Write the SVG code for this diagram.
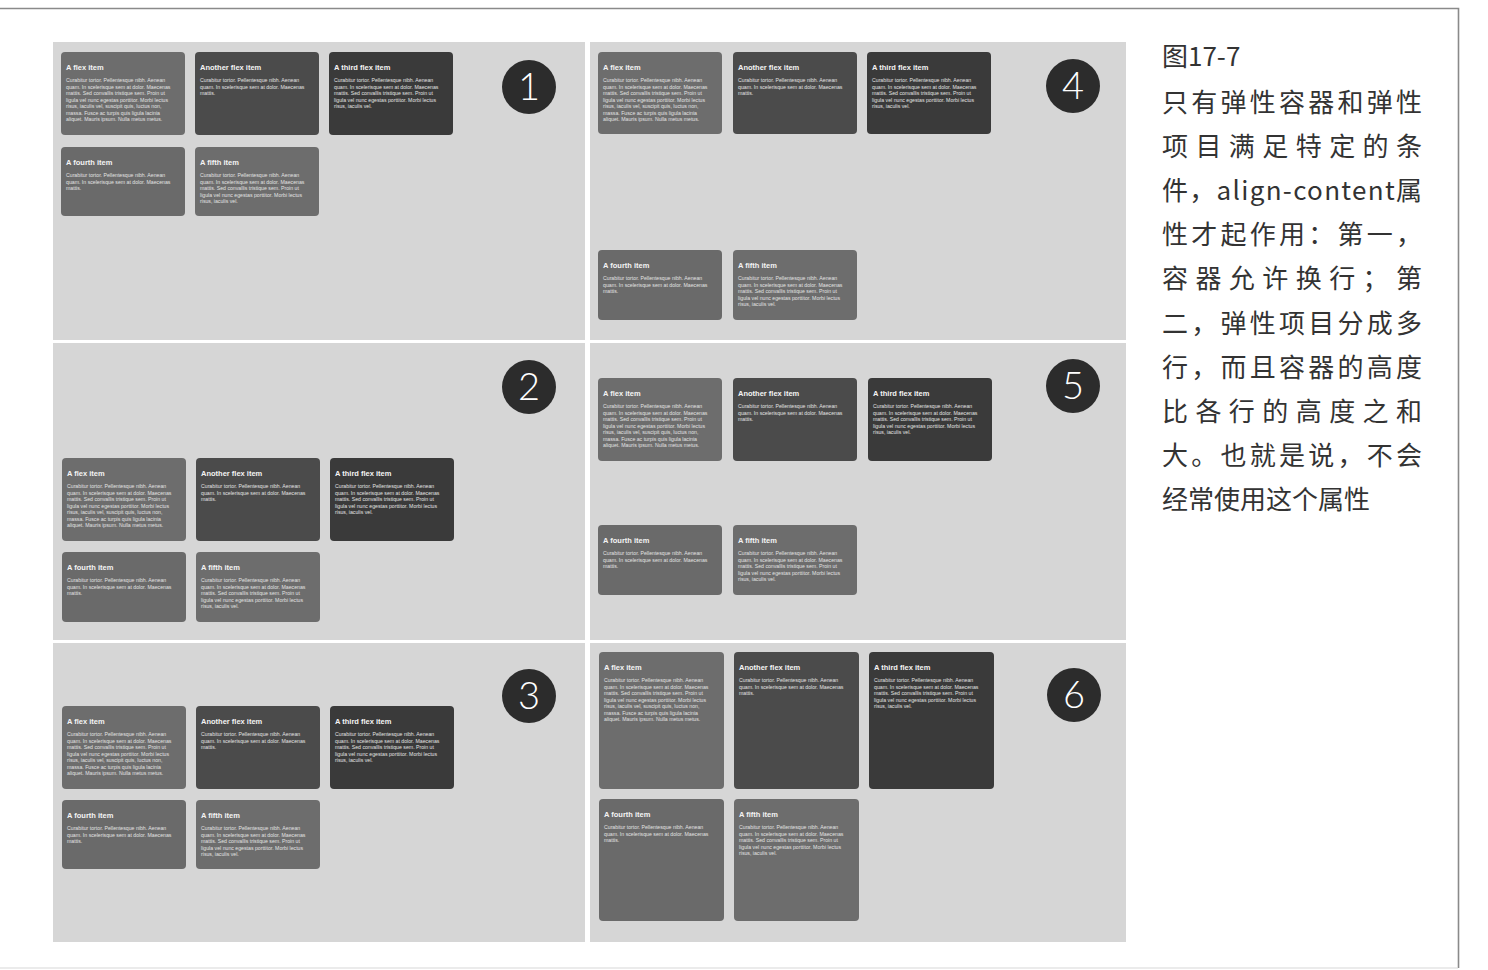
<svg xmlns="http://www.w3.org/2000/svg" xmlns:xlink="http://www.w3.org/1999/xlink" width="1488" height="970" viewBox="0 0 1488 970">
<style>
.panel{fill:#d6d6d6}
.c1{fill:#6d6d6d}.c2{fill:#4b4b4b}.c3{fill:#3a3a3a}.c4{fill:#6a6a6a}.c5{fill:#6d6d6d}
.ttl{font-family:"Liberation Sans",Arial,sans-serif;font-size:7.5px;font-weight:bold;fill:#f4f4f4}
.bd{font-family:"Liberation Sans",Arial,sans-serif;font-size:5.2px;fill:#e2e2e2}
.badge{fill:#2c2c2c}
.num{font-family:Lato,"Open Sans",sans-serif;font-weight:300;font-size:38px;fill:#ffffff;text-anchor:middle}
.cap{font-family:"Noto Sans CJK SC","Noto Sans",sans-serif;font-size:26px;fill:#333333}
.frame{fill:none;stroke:#8a8a8a;stroke-width:1.6}
</style>
<defs>
<g id="t1"><text class="ttl" x="5" y="18">A flex item</text><text class="bd"><tspan x="5" y="30">Curabitur tortor. Pellentesque nibh. Aenean</tspan><tspan x="5" y="36.5">quam. In scelerisque sem at dolor. Maecenas</tspan><tspan x="5" y="43">mattis. Sed convallis tristique sem. Proin ut</tspan><tspan x="5" y="49.5">ligula vel nunc egestas porttitor. Morbi lectus</tspan><tspan x="5" y="56">risus, iaculis vel, suscipit quis, luctus non,</tspan><tspan x="5" y="62.5">massa. Fusce ac turpis quis ligula lacinia</tspan><tspan x="5" y="69">aliquet. Mauris ipsum. Nulla metus metus.</tspan></text></g>
<g id="t2"><text class="ttl" x="5" y="18">Another flex item</text><text class="bd"><tspan x="5" y="30">Curabitur tortor. Pellentesque nibh. Aenean</tspan><tspan x="5" y="36.5">quam. In scelerisque sem at dolor. Maecenas</tspan><tspan x="5" y="43">mattis.</tspan></text></g>
<g id="t3"><text class="ttl" x="5" y="18">A third flex item</text><text class="bd"><tspan x="5" y="30">Curabitur tortor. Pellentesque nibh. Aenean</tspan><tspan x="5" y="36.5">quam. In scelerisque sem at dolor. Maecenas</tspan><tspan x="5" y="43">mattis. Sed convallis tristique sem. Proin ut</tspan><tspan x="5" y="49.5">ligula vel nunc egestas porttitor. Morbi lectus</tspan><tspan x="5" y="56">risus, iaculis vel.</tspan></text></g>
<g id="t4"><text class="ttl" x="5" y="18">A fourth item</text><text class="bd"><tspan x="5" y="30">Curabitur tortor. Pellentesque nibh. Aenean</tspan><tspan x="5" y="36.5">quam. In scelerisque sem at dolor. Maecenas</tspan><tspan x="5" y="43">mattis.</tspan></text></g>
<g id="t5"><text class="ttl" x="5" y="18">A fifth item</text><text class="bd"><tspan x="5" y="30">Curabitur tortor. Pellentesque nibh. Aenean</tspan><tspan x="5" y="36.5">quam. In scelerisque sem at dolor. Maecenas</tspan><tspan x="5" y="43">mattis. Sed convallis tristique sem. Proin ut</tspan><tspan x="5" y="49.5">ligula vel nunc egestas porttitor. Morbi lectus</tspan><tspan x="5" y="56">risus, iaculis vel.</tspan></text></g>
</defs>
<rect width="1488" height="970" fill="#ffffff"/>
<path class="frame" d="M0 8.5 H1458.5 V968"/>
<path d="M0 968 H1458" stroke="#d8d8d8" stroke-width="1.2" fill="none"/>

<g id="panel1">
<rect class="panel" x="53" y="42" width="532" height="298"/>
<g id="p1-i1"><rect class="c1" x="61" y="52" width="124" height="83" rx="4"/><use xlink:href="#t1" x="61" y="52"/></g>
<g id="p1-i2"><rect class="c2" x="195" y="52" width="124" height="83" rx="4"/><use xlink:href="#t2" x="195" y="52"/></g>
<g id="p1-i3"><rect class="c3" x="329" y="52" width="124" height="83" rx="4"/><use xlink:href="#t3" x="329" y="52"/></g>
<g id="p1-i4"><rect class="c4" x="61" y="147" width="124" height="69" rx="4"/><use xlink:href="#t4" x="61" y="147"/></g>
<g id="p1-i5"><rect class="c5" x="195" y="147" width="124" height="69" rx="4"/><use xlink:href="#t5" x="195" y="147"/></g>
<g id="badge1"><circle class="badge" cx="529" cy="87" r="27"/><text class="num" x="529" y="100">1</text></g>
</g>

<g id="panel2">
<rect class="panel" x="53" y="343" width="532" height="297"/>
<g id="p2-i1"><rect class="c1" x="62" y="458" width="124" height="83" rx="4"/><use xlink:href="#t1" x="62" y="458"/></g>
<g id="p2-i2"><rect class="c2" x="196" y="458" width="124" height="83" rx="4"/><use xlink:href="#t2" x="196" y="458"/></g>
<g id="p2-i3"><rect class="c3" x="330" y="458" width="124" height="83" rx="4"/><use xlink:href="#t3" x="330" y="458"/></g>
<g id="p2-i4"><rect class="c4" x="62" y="552" width="124" height="70" rx="4"/><use xlink:href="#t4" x="62" y="552"/></g>
<g id="p2-i5"><rect class="c5" x="196" y="552" width="124" height="70" rx="4"/><use xlink:href="#t5" x="196" y="552"/></g>
<g id="badge2"><circle class="badge" cx="529" cy="387" r="27"/><text class="num" x="529" y="400">2</text></g>
</g>

<g id="panel3">
<rect class="panel" x="53" y="643" width="532" height="299"/>
<g id="p3-i1"><rect class="c1" x="62" y="706" width="124" height="83" rx="4"/><use xlink:href="#t1" x="62" y="706"/></g>
<g id="p3-i2"><rect class="c2" x="196" y="706" width="124" height="83" rx="4"/><use xlink:href="#t2" x="196" y="706"/></g>
<g id="p3-i3"><rect class="c3" x="330" y="706" width="124" height="83" rx="4"/><use xlink:href="#t3" x="330" y="706"/></g>
<g id="p3-i4"><rect class="c4" x="62" y="800" width="124" height="69" rx="4"/><use xlink:href="#t4" x="62" y="800"/></g>
<g id="p3-i5"><rect class="c5" x="196" y="800" width="124" height="69" rx="4"/><use xlink:href="#t5" x="196" y="800"/></g>
<g id="badge3"><circle class="badge" cx="529" cy="696" r="27"/><text class="num" x="529" y="709">3</text></g>
</g>

<g id="panel4">
<rect class="panel" x="590" y="42" width="536" height="298"/>
<g id="p4-i1"><rect class="c1" x="598" y="52" width="124" height="82" rx="4"/><use xlink:href="#t1" x="598" y="52"/></g>
<g id="p4-i2"><rect class="c2" x="733" y="52" width="124" height="82" rx="4"/><use xlink:href="#t2" x="733" y="52"/></g>
<g id="p4-i3"><rect class="c3" x="867" y="52" width="124" height="82" rx="4"/><use xlink:href="#t3" x="867" y="52"/></g>
<g id="p4-i4"><rect class="c4" x="598" y="250" width="124" height="70" rx="4"/><use xlink:href="#t4" x="598" y="250"/></g>
<g id="p4-i5"><rect class="c5" x="733" y="250" width="124" height="70" rx="4"/><use xlink:href="#t5" x="733" y="250"/></g>
<g id="badge4"><circle class="badge" cx="1073" cy="86" r="27"/><text class="num" x="1073" y="99">4</text></g>
</g>

<g id="panel5">
<rect class="panel" x="590" y="343" width="536" height="297"/>
<g id="p5-i1"><rect class="c1" x="598" y="378" width="124" height="83" rx="4"/><use xlink:href="#t1" x="598" y="378"/></g>
<g id="p5-i2"><rect class="c2" x="733" y="378" width="124" height="83" rx="4"/><use xlink:href="#t2" x="733" y="378"/></g>
<g id="p5-i3"><rect class="c3" x="868" y="378" width="124" height="83" rx="4"/><use xlink:href="#t3" x="868" y="378"/></g>
<g id="p5-i4"><rect class="c4" x="598" y="525" width="124" height="70" rx="4"/><use xlink:href="#t4" x="598" y="525"/></g>
<g id="p5-i5"><rect class="c5" x="733" y="525" width="124" height="70" rx="4"/><use xlink:href="#t5" x="733" y="525"/></g>
<g id="badge5"><circle class="badge" cx="1073" cy="386" r="27"/><text class="num" x="1073" y="399">5</text></g>
</g>

<g id="panel6">
<rect class="panel" x="590" y="643" width="536" height="299"/>
<g id="p6-i1"><rect class="c1" x="599" y="652" width="125" height="137" rx="4"/><use xlink:href="#t1" x="599" y="652"/></g>
<g id="p6-i2"><rect class="c2" x="734" y="652" width="125" height="137" rx="4"/><use xlink:href="#t2" x="734" y="652"/></g>
<g id="p6-i3"><rect class="c3" x="869" y="652" width="125" height="137" rx="4"/><use xlink:href="#t3" x="869" y="652"/></g>
<g id="p6-i4"><rect class="c4" x="599" y="799" width="125" height="122" rx="4"/><use xlink:href="#t4" x="599" y="799"/></g>
<g id="p6-i5"><rect class="c5" x="734" y="799" width="125" height="122" rx="4"/><use xlink:href="#t5" x="734" y="799"/></g>
<g id="badge6"><circle class="badge" cx="1074" cy="695" r="27"/><text class="num" x="1074" y="708">6</text></g>
</g>

<g id="connectors"></g>

<g id="caption">
<text class="cap" x="1162" y="66">图17-7</text>
<text class="cap" x="1162" y="112" textLength="260" lengthAdjust="spacing">只有弹性容器和弹性</text>
<text class="cap" x="1162" y="156" textLength="260" lengthAdjust="spacing">项目满足特定的条</text>
<text class="cap" x="1162" y="200" textLength="260" lengthAdjust="spacing">件，align-content属</text>
<text class="cap" x="1162" y="244" textLength="260" lengthAdjust="spacing">性才起作用：第一，</text>
<text class="cap" x="1162" y="288" textLength="260" lengthAdjust="spacing">容器允许换行；第</text>
<text class="cap" x="1162" y="333" textLength="260" lengthAdjust="spacing">二，弹性项目分成多</text>
<text class="cap" x="1162" y="377" textLength="260" lengthAdjust="spacing">行，而且容器的高度</text>
<text class="cap" x="1162" y="421" textLength="260" lengthAdjust="spacing">比各行的高度之和</text>
<text class="cap" x="1162" y="465" textLength="260" lengthAdjust="spacing">大。也就是说，不会</text>
<text class="cap" x="1162" y="509">经常使用这个属性</text>
</g>
</svg>
